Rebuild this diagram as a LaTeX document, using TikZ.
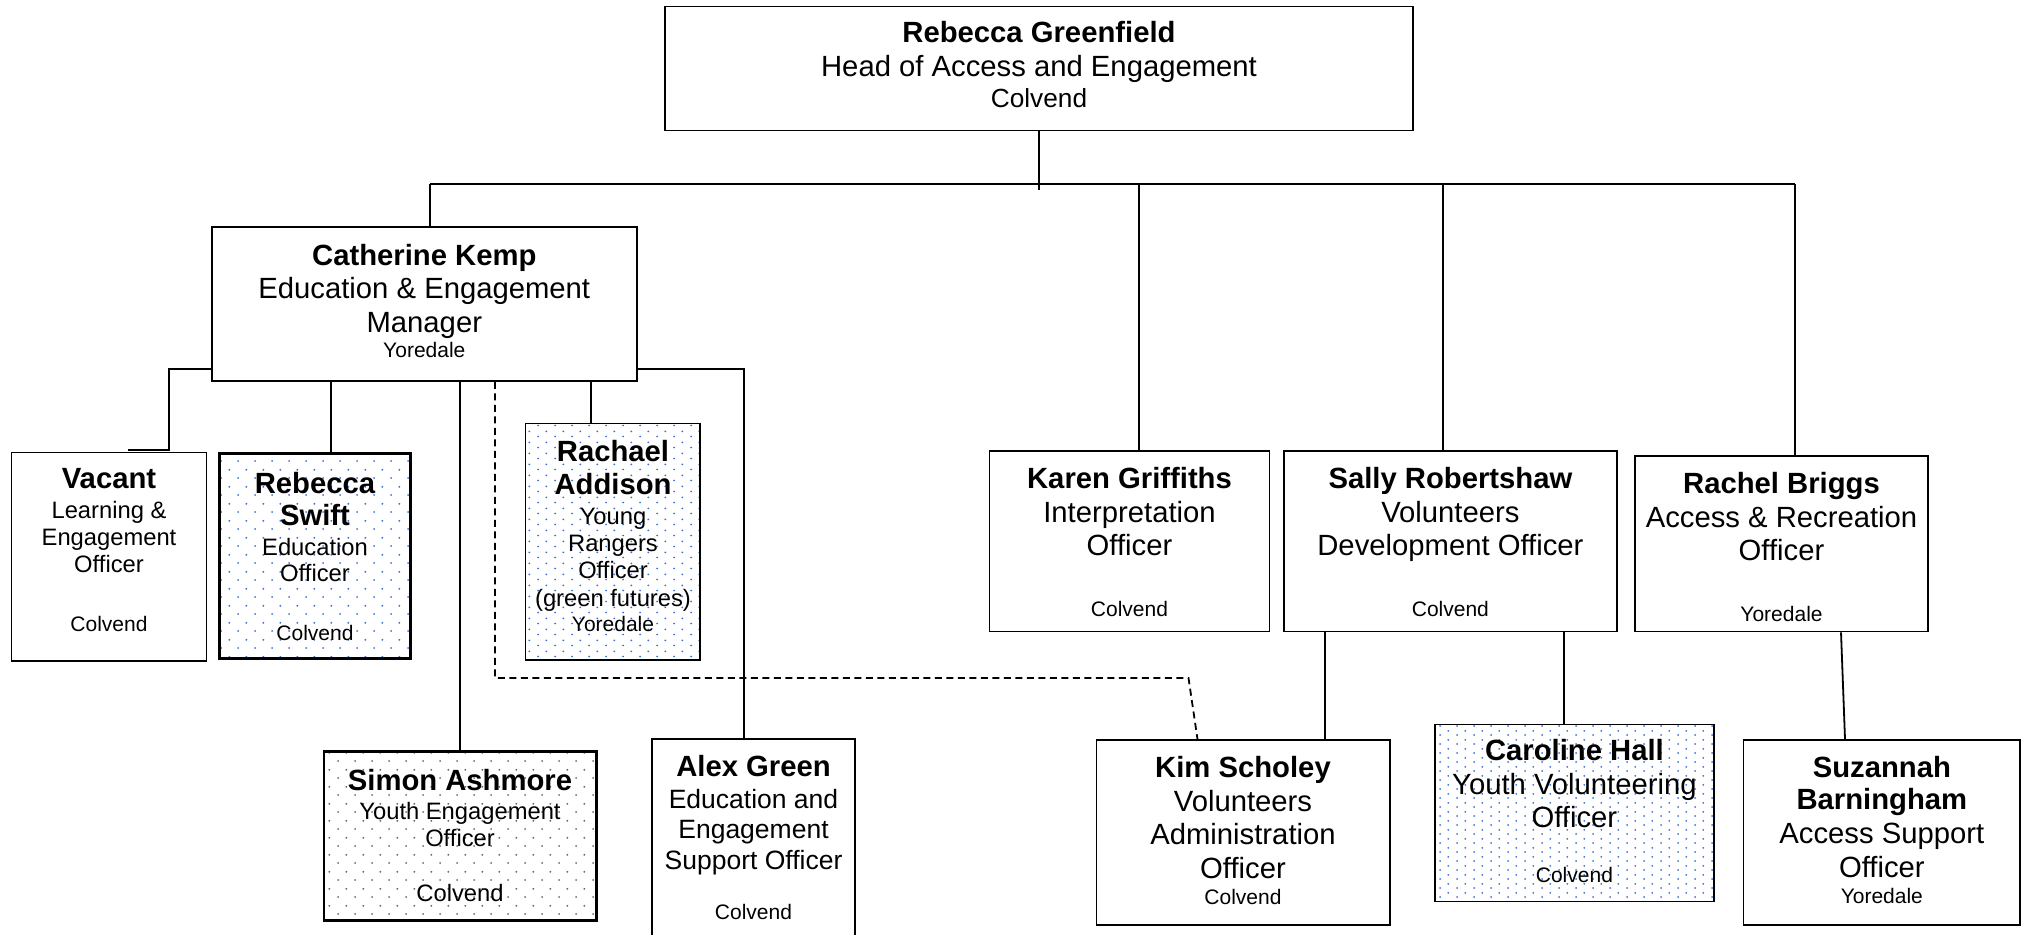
\documentclass[tikz,border=0pt]{standalone}
\usepackage{fontspec}
\setmainfont{Liberation Sans}
\usetikzlibrary{fit,patterns.meta,calc}

\tikzdeclarepattern{name=dotsWide, type=uncolored,
  bottom left={(0pt,0pt)}, top right={(6.68pt,6.64pt)}, tile size={(6.68pt,6.64pt)},
  code={\pgfpathcircle{\pgfqpoint{1.67pt}{1.66pt}}{0.42pt}\pgfpathcircle{\pgfqpoint{5.01pt}{4.98pt}}{0.42pt}\pgfusepath{fill}}}
\tikzdeclarepattern{name=dotsMid, type=uncolored,
  bottom left={(0pt,0pt)}, top right={(6.68pt,4.4pt)}, tile size={(6.68pt,4.4pt)},
  code={\pgfpathcircle{\pgfqpoint{1.67pt}{1.1pt}}{0.42pt}\pgfpathcircle{\pgfqpoint{5.01pt}{3.3pt}}{0.42pt}\pgfusepath{fill}}}
\tikzdeclarepattern{name=dotsDense, type=uncolored,
  bottom left={(0pt,0pt)}, top right={(6.68pt,3.6pt)}, tile size={(6.68pt,3.6pt)},
  code={\pgfpathcircle{\pgfqpoint{1.67pt}{0.9pt}}{0.42pt}\pgfpathcircle{\pgfqpoint{5.01pt}{2.7pt}}{0.42pt}\pgfusepath{fill}}}

\definecolor{dotblue}{RGB}{55,115,215}
\definecolor{dotgrey}{RGB}{105,105,105}

\newcounter{tln}
\newcommand\boxline[4]{\stepcounter{tln}\node[#1, anchor=base, inner sep=0pt] (t\arabic{tln}) at (#2,#3) {#4};}

\begin{document}
\begin{tikzpicture}[x=0.4pt,y=-0.4pt,
  box/.style={draw, rectangle, inner sep=0pt, line width=0.65pt},
  thickbox/.style={box, line width=1.05pt},
  conn/.style={line width=0.72pt},
  dline/.style={conn, dash pattern=on 2.8pt off 1.8pt},
  nm/.style={font=\fontsize{11.7}{14}\selectfont\bfseries},
  ta/.style={font=\fontsize{11.7}{14}\selectfont},
  tm/.style={font=\fontsize{10.6}{13}\selectfont},
  ts/.style={font=\fontsize{9.5}{11}\selectfont},
  tx/.style={font=\fontsize{8.4}{10}\selectfont},
  tt/.style={font=\fontsize{10.5}{12}\selectfont},
]
\useasboundingbox (0,0) rectangle (2025,934);
\clip (0,0) rectangle (2025,934);

% ---------- junction coordinates ----------
\coordinate (tdrop) at (1039,190);
\coordinate (bl) at (430,184);
\coordinate (br) at (1795,184);
\coordinate (jk) at (1139,184);
\coordinate (js) at (1442.6,184);
\coordinate (cv1) at (169,369);
\coordinate (cv2) at (128,450);
\coordinate (xs) at (330.6,0);
\coordinate (xr) at (591,0);
\coordinate (ca) at (744,369);
\coordinate (d1) at (495,678);
\coordinate (d2) at (1188.5,678);
\coordinate (d3) at (1197.5,0);
\coordinate (xk) at (1324.7,0);
\coordinate (xc) at (1564,0);
\coordinate (z1) at (1841,0);
\coordinate (z2) at (1845,0);

% ---------- boxes ----------
\node[box, fit={(665,6.5) (1413,130.4)}] (top) {};
\node[box, fit={(211.8,227.3) (636.7,381)}] (cat) {};
\node[box, fit={(11.6,452.5) (206.6,661)}] (vac) {};
\node[thickbox, pattern=dotsWide, pattern color=dotblue, fit={(219.6,453.3) (410.7,658.7)}] (swf) {};
\node[box, pattern=dotsMid, pattern color=dotblue, fit={(525.6,423.6) (700,660)}] (rach) {};
\node[thickbox, pattern=dotsWide, pattern color=dotgrey, fit={(324,751.7) (596.7,920.5)}] (sim) {};
\node[box, fit={(652,739) (855,950)}] (alex) {};
\node[box, fit={(989.3,450.7) (1269.5,631.5)}] (kar) {};
\node[box, fit={(1283.8,450.7) (1617,631.5)}] (sal) {};
\node[box, fit={(1635,456) (1928,631.5)}] (rb) {};
\node[box, fit={(1096.5,740) (1389.7,924.7)}] (kim) {};
\node[box, pattern=dotsDense, pattern color=dotblue, fit={(1434.9,724.5) (1713.8,901.5)}] (car) {};
\node[box, fit={(1743.5,740) (2020,924.7)}] (suz) {};

% ---------- connectors ----------
\draw[conn] (top.south) -- (tdrop);
\draw[conn] (bl) -- (br);
\draw[conn] (bl) -- (bl |- cat.north);
\draw[conn] (jk) -- (jk |- kar.north);
\draw[conn] (js) -- (js |- sal.north);
\draw[conn] (br) -- (br |- rb.north);

\draw[conn] (cat.west |- cv1) -- (cv1) -- (cv1 |- cv2) -- (cv2);
\draw[conn] (xs |- cat.south) -- (xs |- swf.north);
\draw[conn] (sim.north |- cat.south) -- (sim.north);
\draw[dline] (d1 |- cat.south) -- (d1) -- (d2) -- (d3 |- kim.north);
\draw[conn] (xr |- cat.south) -- (xr |- rach.north);
\draw[conn] (cat.east |- ca) -- (ca) -- (ca |- alex.north);

\draw[conn] (xk |- sal.south) -- (xk |- kim.north);
\draw[conn] (xc |- sal.south) -- (xc |- car.north);
\draw[conn] (z1 |- rb.south) -- (z2 |- suz.north);

% ---------- texts ----------
\boxline{nm}{1039}{42.8}{Rebecca Greenfield}
\boxline{ta}{1039}{76.4}{Head of Access and Engagement}
\boxline{tt}{1039}{107}{Colvend}

\boxline{nm}{424.3}{265}{Catherine Kemp}
\boxline{ta}{424.3}{298.5}{Education \& Engagement}
\boxline{ta}{424.3}{332}{Manager}
\boxline{tx}{424.3}{357.6}{Yoredale}

\boxline{nm}{109}{488.5}{Vacant}
\boxline{ts}{109}{518.5}{Learning \&}
\boxline{ts}{109}{545.8}{Engagement}
\boxline{ts}{109}{572.5}{Officer}
\boxline{tx}{109}{631.5}{Colvend}

\boxline{nm}{315}{493}{Rebecca}
\boxline{nm}{315}{525.5}{Swift}
\boxline{ts}{315}{555}{Education}
\boxline{ts}{315}{581.5}{Officer}
\boxline{tx}{315}{640.4}{Colvend}

\boxline{nm}{613}{461.5}{Rachael}
\boxline{nm}{613}{494}{Addison}
\boxline{ts}{613}{524}{Young}
\boxline{ts}{613}{551}{Rangers}
\boxline{ts}{613}{578.5}{Officer}
\boxline{ts}{613}{606.5}{(green futures)}
\boxline{tx}{613}{631.5}{Yoredale}

\boxline{nm}{460}{790}{Simon Ashmore}
\boxline{ts}{460}{819}{Youth Engagement}
\boxline{ts}{460}{846.5}{Officer}
\boxline{ts}{460}{901.5}{Colvend}

\boxline{nm}{753.5}{776.5}{Alex Green}
\boxline{tm}{753.5}{808}{Education and}
\boxline{tm}{753.5}{838.5}{Engagement}
\boxline{tm}{753.5}{869}{Support Officer}
\boxline{tx}{753.5}{919.5}{Colvend}

\boxline{nm}{1129.5}{488.4}{Karen Griffiths}
\boxline{ta}{1129.5}{522}{Interpretation}
\boxline{ta}{1129.5}{555.5}{Officer}
\boxline{tx}{1129.5}{616}{Colvend}

\boxline{nm}{1450.4}{488.4}{Sally Robertshaw}
\boxline{ta}{1450.4}{522}{Volunteers}
\boxline{ta}{1450.4}{555.5}{Development Officer}
\boxline{tx}{1450.4}{616}{Colvend}

\boxline{nm}{1781.5}{493.5}{Rachel Briggs}
\boxline{ta}{1781.5}{527}{Access \& Recreation}
\boxline{ta}{1781.5}{560.7}{Officer}
\boxline{tx}{1781.5}{621}{Yoredale}

\boxline{nm}{1243}{777}{Kim Scholey}
\boxline{ta}{1243}{811}{Volunteers}
\boxline{ta}{1243}{844.5}{Administration}
\boxline{ta}{1243}{878}{Officer}
\boxline{tx}{1243}{904}{Colvend}

\boxline{nm}{1574.4}{760}{Caroline Hall}
\boxline{ta}{1574.4}{794.2}{Youth Volunteering}
\boxline{ta}{1574.4}{827.7}{Officer}
\boxline{tx}{1574.4}{882.5}{Colvend}

\boxline{nm}{1881.8}{777}{Suzannah}
\boxline{nm}{1881.8}{809.5}{Barningham}
\boxline{ta}{1881.8}{843.5}{Access Support}
\boxline{ta}{1881.8}{877}{Officer}
\boxline{tx}{1881.8}{903.5}{Yoredale}
\end{tikzpicture}
\end{document}
